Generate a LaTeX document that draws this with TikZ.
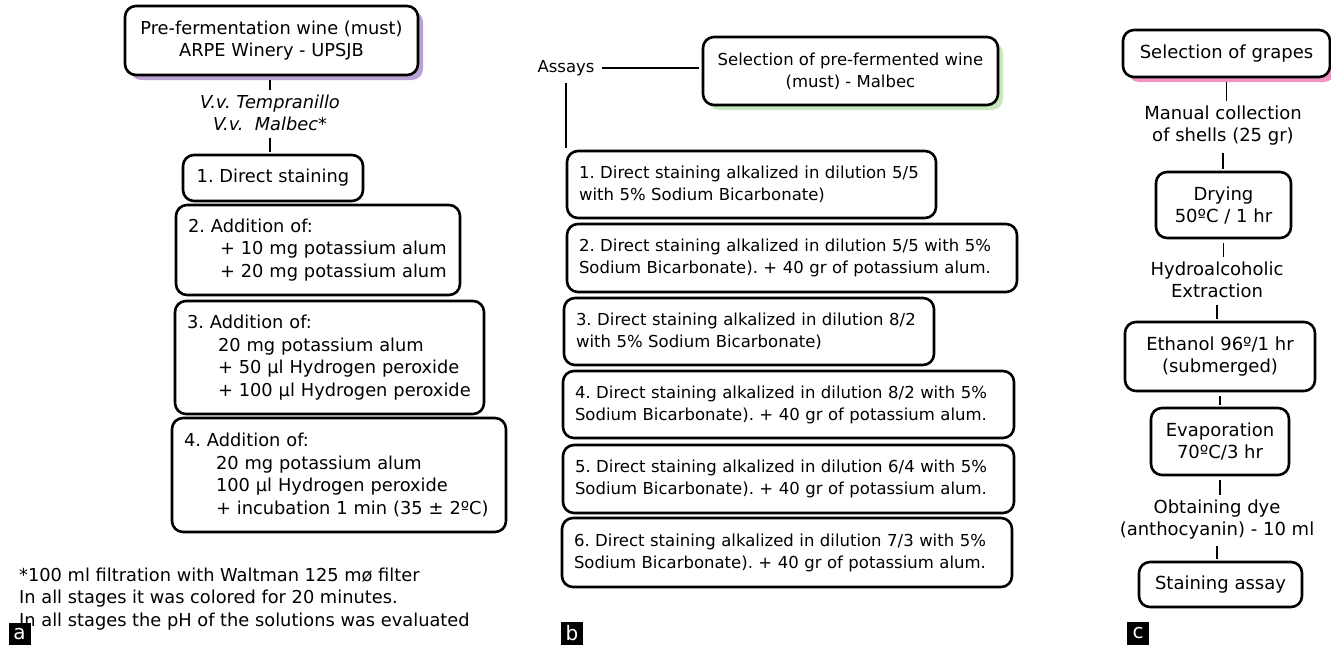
\documentclass[tikz,border=0pt]{standalone}
\usepackage{fontspec}
\setmainfont{DejaVu Sans}
\usetikzlibrary{shadows}
\definecolor{lilac}{RGB}{186,162,214}
\definecolor{mint}{RGB}{200,231,188}
\definecolor{rose}{RGB}{238,150,192}
\tikzset{
  stage/.style={draw, line width=2.6pt, rounded corners=11pt, fill=white, inner xsep=12pt, inner ysep=0pt},
  plain/.style={inner sep=3pt, align=center},
  link/.style={line width=1.5pt, shorten <=4pt, shorten >=2pt},
  tag/.style={fill=black, text=white, inner sep=0pt, minimum width=22pt, minimum height=23pt, font=\fontsize{20}{20}\selectfont},
}

\begin{document}
\frenchspacing
\begin{tikzpicture}[x=1pt,y=-1pt,font=\fontsize{17.8}{22.5}\selectfont]
\useasboundingbox (0,0) rectangle (1331,645);

%left - boxes
\node[stage, minimum width=293pt, minimum height=69pt, align=center,
      drop shadow={shadow xshift=5pt,shadow yshift=-5pt,fill=lilac,opacity=1}] (must) at (271.5,40.5)
      {Pre-fermentation wine (must)\\ARPE Winery - UPSJB};
\node[plain, font=\fontsize{17.8}{22.5}\selectfont\itshape] (vitis) at (270,113) {V.v. Tempranillo\\V.v.\ \ Malbec*};
\node[stage, minimum width=180pt, minimum height=46pt] (add1) at (273,178) {1. Direct staining};
\node[stage, minimum width=284pt, minimum height=90pt, text width=260pt, align=left] (add2) at (318,250)
      {2. Addition of:\\\hspace*{32pt}+ 10 mg potassium alum\\\hspace*{32pt}+ 20 mg potassium alum};
\node[stage, minimum width=309pt, minimum height=113pt, text width=285pt, align=left] (add3) at (329.5,357.5)
      {3. Addition of:\\\hspace*{31pt}20 mg potassium alum\\\hspace*{31pt}+ 50 µl Hydrogen peroxide\\\hspace*{31pt}+ 100 µl Hydrogen peroxide};
\node[stage, minimum width=334pt, minimum height=114pt, text width=310pt, align=left] (add4) at (339,475)
      {4. Addition of:\\\hspace*{32pt}20 mg potassium alum\\\hspace*{32pt}100 µl Hydrogen peroxide\\\hspace*{32pt}+ incubation 1 min (35 ± 2ºC)};
%left - notes
\node[anchor=west, align=left, inner sep=0pt] (notes) at (19,599)
      {*100 ml filtration with Waltman 125 mø filter\\In all stages it was colored for 20 minutes.\\In all stages the pH of the solutions was evaluated};
\node[tag] (taga) at (19.5,634) {a};
%left - lines
\draw[link] (vitis.north |- must.south) -- (vitis.north);	%must--vitis
\draw[link] (vitis.south) -- (vitis.south |- add1.north);	%vitis--add1

\begin{scope}[font=\fontsize{16.5}{22}\selectfont]
%mid - boxes
\node[plain] (assays) at (566,68) {Assays};
\node[stage, minimum width=295pt, minimum height=68pt, align=center,
      drop shadow={shadow xshift=5pt,shadow yshift=-5pt,fill=mint,opacity=1}] (pick) at (850.5,71)
      {Selection of pre-fermented wine\\(must) - Malbec};
\node[stage, minimum width=369pt, minimum height=67pt, text width=345pt, align=left] (dil1) at (751.5,184.5)
      {1. Direct staining alkalized in dilution 5/5\\with 5\% Sodium Bicarbonate)};
\node[stage, minimum width=450pt, minimum height=68pt, text width=426pt, align=left] (dil2) at (792,258)
      {2. Direct staining alkalized in dilution 5/5 with 5\%\\Sodium Bicarbonate). + 40 gr of potassium alum.};
\node[stage, minimum width=370pt, minimum height=67pt, text width=346pt, align=left] (dil3) at (749,331.5)
      {3. Direct staining alkalized in dilution 8/2\\with 5\% Sodium Bicarbonate)};
\node[stage, minimum width=451pt, minimum height=67pt, text width=427pt, align=left] (dil4) at (788.5,404.5)
      {4. Direct staining alkalized in dilution 8/2 with 5\%\\Sodium Bicarbonate). + 40 gr of potassium alum.};
\node[stage, minimum width=451pt, minimum height=68pt, text width=427pt, align=left] (dil5) at (788.5,479)
      {5. Direct staining alkalized in dilution 6/4 with 5\%\\Sodium Bicarbonate). + 40 gr of potassium alum.};
\node[stage, minimum width=450pt, minimum height=69pt, text width=426pt, align=left] (dil6) at (787,552.5)
      {6. Direct staining alkalized in dilution 7/3 with 5\%\\Sodium Bicarbonate). + 40 gr of potassium alum.};
\node[tag] (tagb) at (572,633.5) {b};
%mid - lines
\draw[link, shorten >=3pt] (assays.east) -- (assays.east -| pick.west);	%assays--pick
\draw[link] (assays.south) -- (assays.south |- dil1.north);	%assays--dil1
\end{scope}

\begin{scope}[font=\fontsize{18}{22}\selectfont]
%right - boxes
\node[stage, minimum width=207pt, minimum height=47pt,
      drop shadow={shadow xshift=5pt,shadow yshift=-5pt,fill=rose,opacity=1}] (grapes) at (1226.5,53.5) {Selection of grapes};
\node[plain] (shells) at (1223,126) {Manual collection\\of shells (25 gr)};
\node[stage, minimum width=135pt, minimum height=66pt, align=center] (dry) at (1223.5,205) {Drying\\50ºC / 1 hr};
\node[plain] (hydro) at (1217,280) {Hydroalcoholic\\Extraction};
\node[stage, minimum width=190pt, minimum height=69pt, align=center] (ethanol) at (1220,356.5) {Ethanol 96º/1 hr\\(submerged)};
\node[stage, minimum width=138pt, minimum height=67pt, align=center] (evap) at (1220,441.5) {Evaporation\\70ºC/3 hr};
\node[plain] (dye) at (1217,519.5) {Obtaining dye\\(anthocyanin) - 10 ml};
\node[stage, minimum width=163pt, minimum height=45pt] (stain) at (1220.5,584.5) {Staining assay};
\node[tag] (tagc) at (1138,633.5) {c};
%right - lines
\draw[link] (grapes.south) -- (grapes.south |- shells.north);	%grapes--shells
\draw[link] (shells.south) -- (shells.south |- dry.north);		%shells--dry
\draw[link] (dry.south) -- (dry.south |- hydro.north);			%dry--hydro
\draw[link] (hydro.south) -- (hydro.south |- ethanol.north);	%hydro--ethanol
\draw[link] (ethanol.south) -- (ethanol.south |- evap.north);	%ethanol--evap
\draw[link] (evap.south) -- (evap.south |- dye.north);			%evap--dye
\draw[link] (dye.south) -- (dye.south |- stain.north);			%dye--stain
\end{scope}
\end{tikzpicture}
\end{document}
